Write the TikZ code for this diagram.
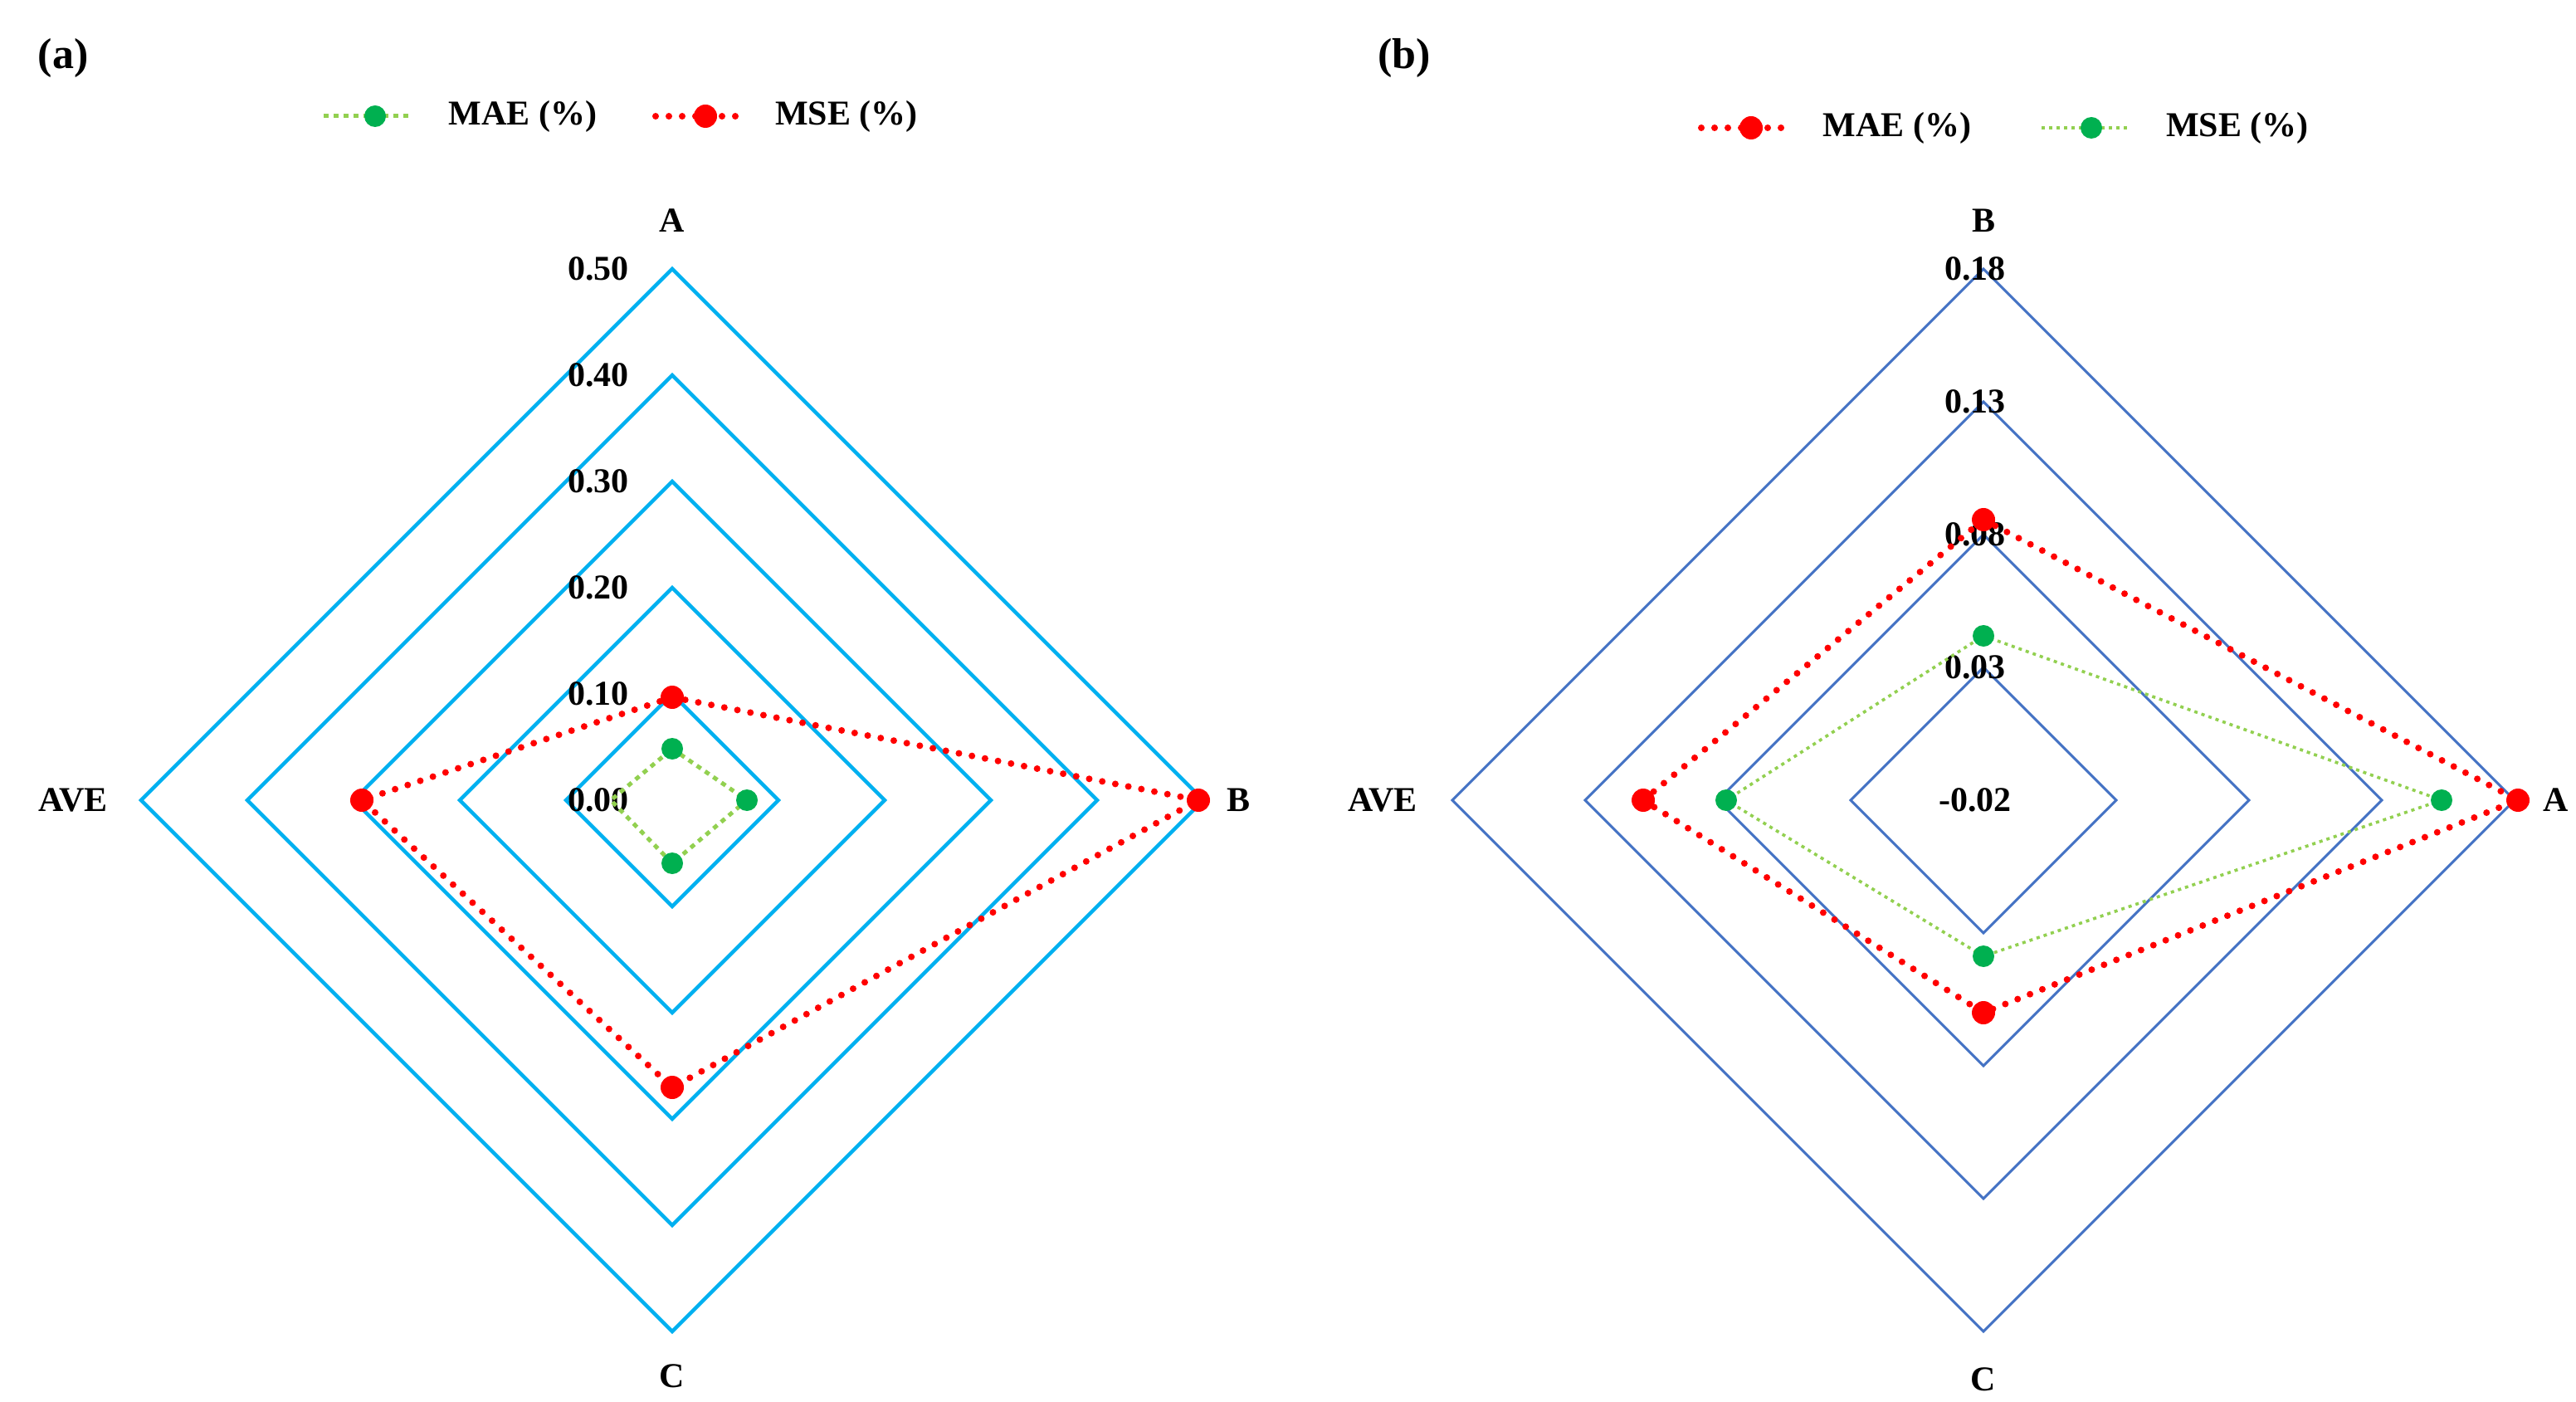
\documentclass[tikz,border=0pt]{standalone}
\usepackage{fontspec}
\setmainfont{Liberation Serif}
\begin{document}
\begin{tikzpicture}[x=1pt,y=-1pt,
  lbl/.style={font=\bfseries\fontsize{21}{24}\selectfont,inner sep=0pt},
  ringa/.style={draw={rgb,255:red,0;green,176;blue,240},line width=2.2pt},
  ringb/.style={draw={rgb,255:red,68;green,114;blue,196},line width=1.5pt},
  redl/.style={draw={rgb,255:red,255;green,0;blue,0},line width=4pt,line cap=round,dash pattern=on 0pt off 8pt},
  grnl/.style={draw={rgb,255:red,146;green,208;blue,80},line width=2.5pt,dash pattern=on 3pt off 3pt},
  grnlb/.style={draw={rgb,255:red,146;green,208;blue,80},line width=1.8pt,dash pattern=on 2pt off 2.5pt},
  rdot/.style={circle,fill={rgb,255:red,255;green,0;blue,0},minimum size=14pt,inner sep=0pt},
  gdot/.style={circle,fill={rgb,255:red,0;green,176;blue,80},minimum size=13pt,inner sep=0pt}]
\useasboundingbox (0,0) rectangle (1552,844.5);
% ---------- panel (a)
\foreach \r in {64,128,192,256,320}
  \draw[ringa] (405,482-\r) -- (405+\r,482) -- (405,482+\r) -- (405-\r,482) -- cycle;
\foreach \v/\t in {0/0.00,64/0.10,128/0.20,192/0.30,256/0.40,320/0.50}
  \node[lbl,anchor=east] (la\v) at (379,482-\v) {\t};
\node[lbl] (aA) at (405,133) {A};
\node[lbl] (aB) at (746,482) {B};
\node[lbl] (aC) at (405,829) {C};
\node[lbl] (aAVE) at (44,482) {AVE};
\coordinate (gA) at (405,451); \coordinate (gB) at (450,482);
\coordinate (gC) at (405,520); \coordinate (gD) at (368,482);
\draw[grnl] (gA) -- (gB) -- (gC) -- (gD) -- cycle;
\coordinate (rA) at (405,420); \coordinate (rB) at (722,482);
\coordinate (rC) at (405,655); \coordinate (rD) at (218,482);
\draw[redl] (rA) -- (rB) -- (rC) -- (rD) -- cycle;
\foreach \p in {rA,rB,rC,rD} \node[rdot] at (\p) {};
\foreach \p in {gA,gB,gC} \node[gdot] at (\p) {};
\node[lbl,font=\bfseries\fontsize{26}{28}\selectfont] (pa) at (38,35) {(a)};
% legend a
\coordinate (la1) at (195,70); \coordinate (la2) at (247,70);
\draw[grnl] (la1) -- (la2); \node[gdot] (lag) at (226,70) {};
\node[lbl] (lat1) at (315,70) {MAE (\%)};
\coordinate (lb1) at (395,70); \coordinate (lb2) at (447,70);
\draw[redl] (lb1) -- (lb2); \node[rdot] (lbr) at (425,70) {};
\node[lbl] (lat2) at (510,70) {MSE (\%)};
% ---------- panel (b)
\foreach \r in {80,160,240,320}
  \draw[ringb] (1195,482-\r) -- (1195+\r,482) -- (1195,482+\r) -- (1195-\r,482) -- cycle;
\foreach \v/\t in {0/-0.02,80/0.03,160/0.08,240/0.13,320/0.18}
  \node[lbl] (lb\v) at (1190,482-\v) {\t};
\node[lbl] (bB) at (1195,133) {B};
\node[lbl] (bA) at (1540,482) {A};
\node[lbl] (bC) at (1195,831) {C};
\node[lbl] (bAVE) at (833,482) {AVE};
\coordinate (hB) at (1195,383); \coordinate (hA) at (1471,482);
\coordinate (hC) at (1195,576); \coordinate (hD) at (1040,482);
\draw[grnlb] (hB) -- (hA) -- (hC) -- (hD) -- cycle;
\coordinate (sB) at (1195,313); \coordinate (sA) at (1517,482);
\coordinate (sC) at (1195,610); \coordinate (sD) at (990,482);
\draw[redl] (sB) -- (sA) -- (sC) -- (sD) -- cycle;
\foreach \p in {sA,sB,sC,sD} \node[rdot] at (\p) {};
\foreach \p in {hA,hB,hC,hD} \node[gdot] at (\p) {};
\node[lbl,font=\bfseries\fontsize{26}{28}\selectfont] (pb) at (846,35) {(b)};
% legend b
\coordinate (m1) at (1025,77); \coordinate (m2) at (1077,77);
\draw[redl] (m1) -- (m2); \node[rdot] (mr) at (1055,77) {};
\node[lbl] (mt1) at (1143,77) {MAE (\%)};
\coordinate (n1) at (1230,77); \coordinate (n2) at (1282,77);
\draw[grnlb] (n1) -- (n2); \node[gdot] (ng) at (1260,77) {};
\node[lbl] (mt2) at (1348,77) {MSE (\%)};
\end{tikzpicture}
\end{document}
